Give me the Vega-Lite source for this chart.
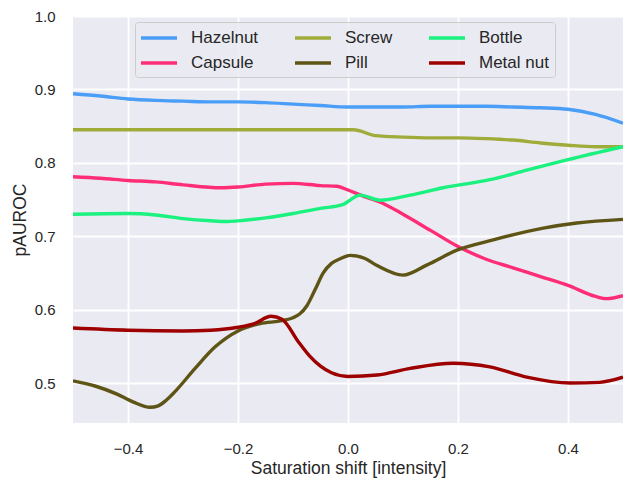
{
  "$schema": "https://vega.github.io/schema/vega-lite/v6.json",
  "width": 550,
  "height": 407,
  "autosize": {"type": "none"},
  "padding": {"left": 73, "top": 16, "right": 6, "bottom": 55},
  "background": "white",
  "config": {
    "font": "Liberation Sans",
    "view": {"fill": "#EAEAF2", "stroke": null},
    "axis": {
      "domain": false,
      "ticks": false,
      "grid": true,
      "gridColor": "white",
      "gridWidth": 1.8,
      "labelFont": "Liberation Sans",
      "labelFontSize": 15,
      "labelColor": "#262626",
      "titleFont": "Liberation Sans",
      "titleFontSize": 17.5,
      "titleFontWeight": "normal",
      "titleColor": "#262626"
    }
  },
  "data": {
    "values": [
      {"shift": -0.5, "pauroc": 0.894, "category": "Hazelnut"},
      {"shift": -0.45, "pauroc": 0.891, "category": "Hazelnut"},
      {"shift": -0.4, "pauroc": 0.887, "category": "Hazelnut"},
      {"shift": -0.35, "pauroc": 0.885, "category": "Hazelnut"},
      {"shift": -0.3, "pauroc": 0.884, "category": "Hazelnut"},
      {"shift": -0.25, "pauroc": 0.883, "category": "Hazelnut"},
      {"shift": -0.2, "pauroc": 0.883, "category": "Hazelnut"},
      {"shift": -0.15, "pauroc": 0.882, "category": "Hazelnut"},
      {"shift": -0.1, "pauroc": 0.88, "category": "Hazelnut"},
      {"shift": -0.05, "pauroc": 0.878, "category": "Hazelnut"},
      {"shift": 0.0, "pauroc": 0.876, "category": "Hazelnut"},
      {"shift": 0.05, "pauroc": 0.876, "category": "Hazelnut"},
      {"shift": 0.1, "pauroc": 0.876, "category": "Hazelnut"},
      {"shift": 0.15, "pauroc": 0.877, "category": "Hazelnut"},
      {"shift": 0.2, "pauroc": 0.877, "category": "Hazelnut"},
      {"shift": 0.25, "pauroc": 0.877, "category": "Hazelnut"},
      {"shift": 0.3, "pauroc": 0.876, "category": "Hazelnut"},
      {"shift": 0.35, "pauroc": 0.875, "category": "Hazelnut"},
      {"shift": 0.4, "pauroc": 0.873, "category": "Hazelnut"},
      {"shift": 0.45, "pauroc": 0.866, "category": "Hazelnut"},
      {"shift": 0.5, "pauroc": 0.854, "category": "Hazelnut"},

      {"shift": -0.5, "pauroc": 0.781, "category": "Capsule"},
      {"shift": -0.45, "pauroc": 0.779, "category": "Capsule"},
      {"shift": -0.4, "pauroc": 0.776, "category": "Capsule"},
      {"shift": -0.35, "pauroc": 0.774, "category": "Capsule"},
      {"shift": -0.3, "pauroc": 0.77, "category": "Capsule"},
      {"shift": -0.23, "pauroc": 0.766, "category": "Capsule"},
      {"shift": -0.2, "pauroc": 0.767, "category": "Capsule"},
      {"shift": -0.15, "pauroc": 0.771, "category": "Capsule"},
      {"shift": -0.1, "pauroc": 0.772, "category": "Capsule"},
      {"shift": -0.05, "pauroc": 0.769, "category": "Capsule"},
      {"shift": -0.02, "pauroc": 0.768, "category": "Capsule"},
      {"shift": 0.0, "pauroc": 0.763, "category": "Capsule"},
      {"shift": 0.03, "pauroc": 0.754, "category": "Capsule"},
      {"shift": 0.06, "pauroc": 0.746, "category": "Capsule"},
      {"shift": 0.1, "pauroc": 0.73, "category": "Capsule"},
      {"shift": 0.15, "pauroc": 0.708, "category": "Capsule"},
      {"shift": 0.2, "pauroc": 0.686, "category": "Capsule"},
      {"shift": 0.25, "pauroc": 0.669, "category": "Capsule"},
      {"shift": 0.3, "pauroc": 0.657, "category": "Capsule"},
      {"shift": 0.35, "pauroc": 0.645, "category": "Capsule"},
      {"shift": 0.4, "pauroc": 0.633, "category": "Capsule"},
      {"shift": 0.45, "pauroc": 0.618, "category": "Capsule"},
      {"shift": 0.47, "pauroc": 0.615, "category": "Capsule"},
      {"shift": 0.5, "pauroc": 0.619, "category": "Capsule"},

      {"shift": -0.5, "pauroc": 0.845, "category": "Screw"},
      {"shift": -0.25, "pauroc": 0.845, "category": "Screw"},
      {"shift": 0.0, "pauroc": 0.845, "category": "Screw"},
      {"shift": 0.01, "pauroc": 0.845, "category": "Screw"},
      {"shift": 0.05, "pauroc": 0.837, "category": "Screw"},
      {"shift": 0.1, "pauroc": 0.835, "category": "Screw"},
      {"shift": 0.15, "pauroc": 0.834, "category": "Screw"},
      {"shift": 0.2, "pauroc": 0.834, "category": "Screw"},
      {"shift": 0.25, "pauroc": 0.833, "category": "Screw"},
      {"shift": 0.3, "pauroc": 0.831, "category": "Screw"},
      {"shift": 0.35, "pauroc": 0.827, "category": "Screw"},
      {"shift": 0.4, "pauroc": 0.824, "category": "Screw"},
      {"shift": 0.45, "pauroc": 0.822, "category": "Screw"},
      {"shift": 0.5, "pauroc": 0.822, "category": "Screw"},

      {"shift": -0.5, "pauroc": 0.503, "category": "Pill"},
      {"shift": -0.46, "pauroc": 0.496, "category": "Pill"},
      {"shift": -0.42, "pauroc": 0.485, "category": "Pill"},
      {"shift": -0.39, "pauroc": 0.474, "category": "Pill"},
      {"shift": -0.36, "pauroc": 0.467, "category": "Pill"},
      {"shift": -0.345, "pauroc": 0.469, "category": "Pill"},
      {"shift": -0.33, "pauroc": 0.477, "category": "Pill"},
      {"shift": -0.315, "pauroc": 0.488, "category": "Pill"},
      {"shift": -0.278, "pauroc": 0.52, "category": "Pill"},
      {"shift": -0.242, "pauroc": 0.549, "category": "Pill"},
      {"shift": -0.2, "pauroc": 0.571, "category": "Pill"},
      {"shift": -0.16, "pauroc": 0.581, "category": "Pill"},
      {"shift": -0.12, "pauroc": 0.585, "category": "Pill"},
      {"shift": -0.1, "pauroc": 0.589, "category": "Pill"},
      {"shift": -0.088, "pauroc": 0.594, "category": "Pill"},
      {"shift": -0.075, "pauroc": 0.605, "category": "Pill"},
      {"shift": -0.06, "pauroc": 0.627, "category": "Pill"},
      {"shift": -0.045, "pauroc": 0.65, "category": "Pill"},
      {"shift": -0.03, "pauroc": 0.663, "category": "Pill"},
      {"shift": -0.015, "pauroc": 0.669, "category": "Pill"},
      {"shift": 0.004, "pauroc": 0.674, "category": "Pill"},
      {"shift": 0.03, "pauroc": 0.67, "category": "Pill"},
      {"shift": 0.053, "pauroc": 0.66, "category": "Pill"},
      {"shift": 0.1, "pauroc": 0.647, "category": "Pill"},
      {"shift": 0.144, "pauroc": 0.661, "category": "Pill"},
      {"shift": 0.198, "pauroc": 0.681, "category": "Pill"},
      {"shift": 0.264, "pauroc": 0.695, "category": "Pill"},
      {"shift": 0.355, "pauroc": 0.711, "category": "Pill"},
      {"shift": 0.416, "pauroc": 0.718, "category": "Pill"},
      {"shift": 0.5, "pauroc": 0.723, "category": "Pill"},

      {"shift": -0.5, "pauroc": 0.73, "category": "Bottle"},
      {"shift": -0.4, "pauroc": 0.731, "category": "Bottle"},
      {"shift": -0.35, "pauroc": 0.729, "category": "Bottle"},
      {"shift": -0.3, "pauroc": 0.724, "category": "Bottle"},
      {"shift": -0.25, "pauroc": 0.721, "category": "Bottle"},
      {"shift": -0.22, "pauroc": 0.72, "category": "Bottle"},
      {"shift": -0.2, "pauroc": 0.721, "category": "Bottle"},
      {"shift": -0.15, "pauroc": 0.725, "category": "Bottle"},
      {"shift": -0.1, "pauroc": 0.731, "category": "Bottle"},
      {"shift": -0.05, "pauroc": 0.738, "category": "Bottle"},
      {"shift": -0.01, "pauroc": 0.743, "category": "Bottle"},
      {"shift": 0.022, "pauroc": 0.756, "category": "Bottle"},
      {"shift": 0.058, "pauroc": 0.749, "category": "Bottle"},
      {"shift": 0.113, "pauroc": 0.756, "category": "Bottle"},
      {"shift": 0.173, "pauroc": 0.766, "category": "Bottle"},
      {"shift": 0.258, "pauroc": 0.777, "category": "Bottle"},
      {"shift": 0.325, "pauroc": 0.79, "category": "Bottle"},
      {"shift": 0.398, "pauroc": 0.804, "category": "Bottle"},
      {"shift": 0.5, "pauroc": 0.822, "category": "Bottle"},

      {"shift": -0.5, "pauroc": 0.575, "category": "Metal nut"},
      {"shift": -0.4, "pauroc": 0.572, "category": "Metal nut"},
      {"shift": -0.3, "pauroc": 0.571, "category": "Metal nut"},
      {"shift": -0.25, "pauroc": 0.572, "category": "Metal nut"},
      {"shift": -0.2, "pauroc": 0.576, "category": "Metal nut"},
      {"shift": -0.17, "pauroc": 0.581, "category": "Metal nut"},
      {"shift": -0.14, "pauroc": 0.591, "category": "Metal nut"},
      {"shift": -0.12, "pauroc": 0.587, "category": "Metal nut"},
      {"shift": -0.09, "pauroc": 0.556, "category": "Metal nut"},
      {"shift": -0.07, "pauroc": 0.537, "category": "Metal nut"},
      {"shift": -0.05, "pauroc": 0.523, "category": "Metal nut"},
      {"shift": -0.03, "pauroc": 0.514, "category": "Metal nut"},
      {"shift": 0.0, "pauroc": 0.509, "category": "Metal nut"},
      {"shift": 0.053, "pauroc": 0.511, "category": "Metal nut"},
      {"shift": 0.113, "pauroc": 0.52, "category": "Metal nut"},
      {"shift": 0.191, "pauroc": 0.527, "category": "Metal nut"},
      {"shift": 0.258, "pauroc": 0.522, "category": "Metal nut"},
      {"shift": 0.325, "pauroc": 0.508, "category": "Metal nut"},
      {"shift": 0.404, "pauroc": 0.5, "category": "Metal nut"},
      {"shift": 0.458, "pauroc": 0.501, "category": "Metal nut"},
      {"shift": 0.5, "pauroc": 0.508, "category": "Metal nut"}
    ]
  },
  "mark": {"type": "line", "strokeWidth": 3.4, "interpolate": "monotone", "clip": true},
  "encoding": {
    "x": {
      "field": "shift",
      "type": "quantitative",
      "title": "Saturation shift [intensity]",
      "scale": {"domain": [-0.5, 0.5], "nice": false, "zero": false},
      "axis": {"values": [-0.4, -0.2, 0.0, 0.2, 0.4], "format": ".1f", "labelPadding": 18, "titlePadding": 3}
    },
    "y": {
      "field": "pauroc",
      "type": "quantitative",
      "title": "pAUROC",
      "scale": {"domain": [0.4456, 1.0], "nice": false, "zero": false},
      "axis": {"values": [0.5, 0.6, 0.7, 0.8, 0.9, 1.0], "format": ".1f", "labelPadding": 18, "titlePadding": 5}
    },
    "color": {
      "field": "category",
      "type": "nominal",
      "title": null,
      "scale": {
        "domain": ["Hazelnut", "Screw", "Bottle", "Capsule", "Pill", "Metal nut"],
        "range": ["#4A9EF7", "#A0AC3A", "#1AF17F", "#FF2D75", "#5E5416", "#9E0000"]
      },
      "legend": {
        "orient": "none",
        "legendX": 62,
        "legendY": 6,
        "columns": 3,
        "direction": "horizontal",
        "symbolType": "M-1.25,0H3.25",
        "symbolSize": 256,
        "symbolStrokeWidth": 3.6,
        "labelFont": "Liberation Sans",
        "labelFontSize": 17,
        "labelColor": "#262626",
        "labelOffset": 30,
        "columnPadding": 28,
        "rowPadding": 7,
        "padding": 6,
        "fillColor": "rgba(234,234,242,0.8)",
        "strokeColor": "#CCCCCC",
        "cornerRadius": 3
      }
    }
  }
}
